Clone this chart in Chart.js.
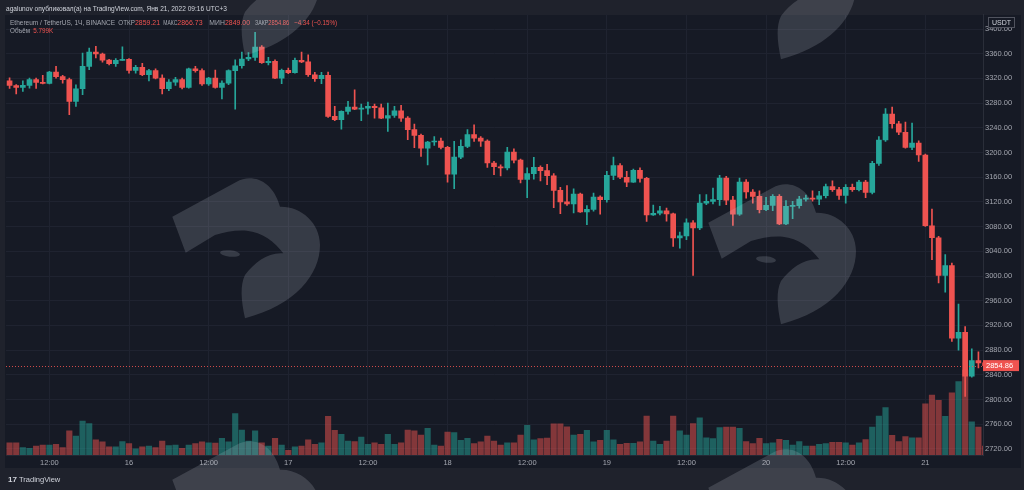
<!DOCTYPE html>
<html>
<head>
<meta charset="utf-8">
<script src="https://cdn.jsdelivr.net/npm/chart.js@4.4.1/dist/chart.umd.min.js"></script>
<style>
  html, body { margin: 0; padding: 0; background: #1f222c; }
  #chart { display: block; }
</style>
</head>
<body>
<canvas id="chart" width="1024" height="490"></canvas>
<script>
// ETH/USDT 1h candles, 15 Jan 06:00 .. 21 Jan 09:00
const opens = [
  3316, 3308.5, 3305.5, 3308.7, 3318, 3313.6, 3312, 3330.3, 3322.8, 3318,
  3282.8, 3303.3, 3339.5, 3362.7, 3359.5, 3349.7, 3343.8, 3349.2, 3350.8, 3333,
  3338, 3326, 3332.5, 3320.6, 3303.3, 3314, 3318, 3305.5, 3335.7, 3332.5,
  3311, 3320.6, 3305.5, 3312.5, 3332.5, 3340.5, 3351.4, 3354, 3370.8, 3345.4,
  3347.6, 3320.6, 3333, 3329.5, 3349.2, 3346.8, 3326, 3319.5, 3325, 3258.5,
  3253, 3266.6, 3273.6, 3270, 3272, 3274.7, 3272.5, 3255.8, 3260, 3267.7,
  3255.8, 3237, 3227.7, 3207.2, 3217, 3218.5, 3208.3, 3165, 3192.5, 3210,
  3229, 3223.4, 3218.5, 3183, 3177, 3175, 3200.8, 3187.8, 3156.5, 3165.7,
  3176, 3170.6, 3162.4, 3138.7, 3120, 3116.6, 3132.8, 3103.7, 3108, 3128,
  3123.6, 3163, 3179, 3160, 3152, 3171, 3158, 3099, 3101.6, 3105.5,
  3100.6, 3061.5, 3065, 3086, 3077.7, 3118, 3120.8, 3123.6, 3158.6, 3123,
  3100, 3152, 3136, 3128.9, 3107.5, 3114.4, 3128.9, 3084.3, 3112.8, 3113.8,
  3124.6, 3126.3, 3124.6, 3130, 3145, 3139.8, 3130.6, 3143.6, 3140, 3152,
  3135.4, 3182.5, 3220.2, 3262.3, 3246.6, 3232.8, 3208.3, 3215.3, 3196, 3081.4,
  3062, 3001, 3016.7, 2899.5, 2908.7, 2837.6, 2863, 2859.21
];
const highs = [
  3321, 3310, 3316, 3320.6, 3320.6, 3325, 3331.4, 3339.5, 3325, 3320.6,
  3309.8, 3361, 3369, 3372, 3361, 3351, 3352, 3371, 3352, 3341,
  3344.3, 3334.6, 3335.7, 3326, 3318, 3321.7, 3320.6, 3336.8, 3339.5, 3335.7,
  3321.7, 3333.5, 3316, 3334, 3350.3, 3362.7, 3362, 3394.5, 3373, 3354,
  3350.3, 3335.2, 3336.8, 3353, 3362.7, 3358.4, 3329.8, 3329.8, 3330.3, 3274.7,
  3267.7, 3282.8, 3301.7, 3278.5, 3281.7, 3278.5, 3278.5, 3280, 3274.7, 3276.3,
  3258, 3246, 3230, 3218, 3226, 3223.4, 3210, 3218, 3220.7, 3237,
  3245, 3226, 3220.7, 3185.6, 3180, 3208.3, 3206, 3189.4, 3175, 3192,
  3178.6, 3181, 3165.7, 3143.6, 3146.3, 3141, 3134.4, 3114, 3134.4, 3130,
  3169.5, 3192.7, 3182, 3169.5, 3173, 3175, 3159.7, 3115, 3113, 3110,
  3102, 3071, 3092.7, 3089.6, 3131.7, 3131.7, 3142.5, 3163, 3161.3, 3129,
  3158.6, 3156, 3139.8, 3138, 3127.4, 3131.7, 3131.7, 3122, 3120.8, 3129,
  3131, 3138, 3137, 3149, 3154, 3143.6, 3148, 3148.8, 3155, 3155,
  3185.6, 3226, 3271, 3273.6, 3250.4, 3249.3, 3247.6, 3219, 3197.5, 3108.5,
  3064.2, 3034.5, 3021, 2954.6, 2918, 2882, 2877, 2866.73
];
const lows = [
  3304, 3295, 3299, 3304.4, 3304, 3311, 3311, 3320.6, 3312.5, 3261.2,
  3274.7, 3293.6, 3334, 3353, 3346.5, 3342, 3339.5, 3349, 3328.7, 3328.7,
  3324.4, 3316, 3319, 3295, 3300, 3308.7, 3302.8, 3304.4, 3330.3, 3308.7,
  3308.7, 3304.4, 3286.6, 3310, 3270.4, 3336.8, 3348.7, 3349.2, 3344.3, 3342,
  3319.5, 3311.4, 3327.6, 3328.7, 3345.4, 3323.3, 3315, 3311.4, 3257, 3251.5,
  3238, 3262.3, 3269.3, 3251.5, 3262.3, 3255.8, 3254.7, 3234, 3257, 3250.4,
  3220.7, 3208, 3193.7, 3180, 3211.4, 3206, 3152, 3141.4, 3190, 3208,
  3218, 3210, 3176, 3164, 3162, 3172, 3183, 3150.6, 3127, 3157,
  3154, 3148, 3110.7, 3101, 3114.4, 3102, 3103, 3083, 3104.8, 3100,
  3119.7, 3156, 3157.5, 3144.6, 3151.6, 3152, 3088.5, 3098, 3099, 3089,
  3048, 3045, 3058.8, 3001, 3075, 3115.5, 3116.6, 3114.4, 3115.5, 3082,
  3098, 3126, 3118, 3102, 3105.8, 3105.8, 3083, 3083, 3092.7, 3110,
  3121, 3121, 3115.5, 3126.3, 3137, 3124, 3118, 3137, 3138, 3127,
  3133, 3179, 3218, 3239.6, 3228.8, 3207.2, 3204.5, 3185.6, 3080.4, 3026.4,
  2988.6, 2974, 2894, 2880, 2805, 2836, 2851, 2849
];
const closes = [
  3308.5, 3305.5, 3308.7, 3318, 3313.6, 3312, 3330.3, 3322.8, 3318, 3282.8,
  3303.3, 3339.5, 3362.7, 3359.5, 3349.7, 3343.8, 3349.2, 3350.8, 3333, 3338,
  3326, 3332.5, 3320.6, 3303.3, 3314, 3318, 3305.5, 3335.7, 3332.5, 3311,
  3320.6, 3305.5, 3312.5, 3332.5, 3340.5, 3351.4, 3354, 3370.8, 3345.4, 3347.6,
  3320.6, 3333, 3329.5, 3349.2, 3346.8, 3326, 3319.5, 3325, 3258.5, 3253,
  3266.6, 3273.6, 3270, 3272, 3274.7, 3272.5, 3255.8, 3260, 3267.7, 3255.8,
  3237, 3227.7, 3207.2, 3217, 3218.5, 3208.3, 3165, 3192.5, 3210, 3229,
  3223.4, 3218.5, 3183, 3177, 3175, 3200.8, 3187.8, 3156.5, 3165.7, 3176,
  3170.6, 3162.4, 3138.7, 3120, 3116.6, 3132.8, 3103.7, 3108, 3128, 3123.6,
  3163, 3179, 3160, 3152, 3171, 3158, 3099, 3101.6, 3105.5, 3100.6,
  3061.5, 3065, 3086, 3077.7, 3118, 3120.8, 3123.6, 3158.6, 3123, 3100,
  3152, 3136, 3128.9, 3107.5, 3114.4, 3128.9, 3084.3, 3112.8, 3113.8, 3124.6,
  3126.3, 3124.6, 3130, 3145, 3139.8, 3130.6, 3143.6, 3140, 3152, 3135.4,
  3182.5, 3220.2, 3262.3, 3246.6, 3232.8, 3208.3, 3215.3, 3196, 3081.4, 3062,
  3001, 3016.7, 2899.5, 2908.7, 2837.6, 2863, 2859.2, 2854.86
];
// volume, thousands of ETH
const volumes = [
  7.9, 7.9, 4.7, 4.3, 5.8, 6.4, 6.4, 6.9, 4.7, 15.5,
  12.2, 21.9, 20.2, 9.7, 8.4, 5.2, 5.2, 8.6, 7.3, 3.9,
  5.3, 5.8, 4.7, 9.0, 6.1, 6.4, 4.3, 6.4, 7.3, 8.4,
  7.9, 7.7, 10.8, 8.4, 26.6, 16.1, 9.0, 15.5, 7.9, 5.8,
  10.8, 6.4, 3.0, 5.2, 5.8, 9.7, 6.9, 7.9, 24.9, 15.9,
  13.3, 9.0, 8.6, 11.6, 6.9, 7.9, 6.9, 13.3, 6.9, 7.9,
  16.1, 15.5, 12.9, 17.2, 6.4, 5.8, 14.8, 14.4, 9.5, 10.8,
  7.3, 8.4, 12.2, 9.0, 6.4, 7.9, 7.9, 12.9, 19.1, 9.7,
  10.5, 10.9, 20.0, 20.0, 18.2, 12.9, 13.3, 15.9, 8.4, 9.5,
  15.9, 9.7, 6.9, 7.5, 7.5, 8.4, 25.1, 9.0, 6.9, 9.0,
  25.1, 15.5, 12.9, 20.2, 24.0, 11.1, 10.5, 17.6, 18.0, 18.0,
  17.2, 8.6, 7.3, 10.8, 7.3, 7.9, 10.1, 9.5, 6.4, 8.6,
  5.8, 5.8, 6.9, 7.3, 8.2, 8.2, 7.9, 6.4, 7.9, 9.9,
  18.0, 25.1, 30.5, 12.7, 8.6, 11.8, 11.1, 11.1, 33.0, 38.6,
  35.2, 24.9, 40.1, 47.2, 54.7, 21.3, 18.0, 5.799
];
// hours counted from 16 Jan 00:00; the first candle is 15 Jan 06:00
const FIRST_HOUR = -18;
const tickHours = [-12, 0, 12, 24, 36, 48, 60, 72, 84, 96, 108, 120];
const tickLabels = ['12:00', '16', '12:00', '17', '12:00', '18', '12:00', '19', '12:00', '20', '12:00', '21'];
const priceTicks = [2720, 2760, 2800, 2840, 2880, 2920, 2960, 3000, 3040, 3080, 3120, 3160, 3200, 3240, 3280, 3320, 3360, 3400];

const GREEN = '#26a69a';
const RED = '#ef5350';
const PANE = '#161a25';
const FRAME = '#1f222c';
const GRID = '#1f2330';
const TEXT = '#a3a6af';
const FONT = '"Liberation Sans", Arial, sans-serif';

const hours = closes.map((c, i) => FIRST_HOUR + i);
const up = closes.map((c, i) => c >= opens[i]);
const candleColors = up.map(u => u ? GREEN : RED);
const volumeColors = up.map(u => u ? 'rgba(38,166,154,0.5)' : 'rgba(239,83,80,0.5)');
const last = closes.length - 1;

// watermark logo outline (slab + bean with the eagle head cut out)
function logoPath(ctx, dx, dy) {
  const P = (x, y) => [x + dx, y + dy];
  ctx.beginPath();
  ctx.moveTo(...P(172.3, 216.7));
  ctx.lineTo(...P(236.7, 181.7));
  ctx.bezierCurveTo(...P(250, 174), ...P(272, 178), ...P(280, 206.7));
  ctx.bezierCurveTo(...P(300, 206), ...P(320, 222), ...P(320, 245));
  ctx.bezierCurveTo(...P(320, 275), ...P(295, 305), ...P(245, 318.3));
  ctx.bezierCurveTo(...P(241, 300), ...P(240, 285), ...P(245, 275));
  ctx.bezierCurveTo(...P(255, 262), ...P(268, 252), ...P(283.3, 253.3));
  ctx.bezierCurveTo(...P(275, 242), ...P(262, 232), ...P(246.7, 230.7));
  ctx.bezierCurveTo(...P(235, 230), ...P(225, 232), ...P(215, 235));
  ctx.lineTo(...P(185.7, 252.7));
  ctx.closePath();
}

const backdrop = {
  id: 'backdrop',
  beforeDraw(chart) {
    const ctx = chart.ctx;
    ctx.save();
    ctx.fillStyle = FRAME;
    ctx.fillRect(0, 0, chart.width, chart.height);
    ctx.fillStyle = PANE;
    ctx.fillRect(5, 15, 1016, 453);
    ctx.restore();
  }
};

const overlay = {
  id: 'overlay',
  afterDatasetsDraw(chart) {
    const ctx = chart.ctx;
    const a = chart.chartArea;
    const y = chart.scales.y.getPixelForValue(closes[last]);
    ctx.save();
    ctx.strokeStyle = 'rgba(239,83,80,0.85)';
    ctx.lineWidth = 1;
    ctx.setLineDash([1, 2]);
    ctx.beginPath();
    ctx.moveTo(a.left, Math.round(y) + 0.5);
    ctx.lineTo(a.right, Math.round(y) + 0.5);
    ctx.stroke();
    ctx.restore();
  },
  afterDraw(chart) {
    const ctx = chart.ctx;
    const y = chart.scales.y.getPixelForValue(closes[last]);
    ctx.save();
    ctx.textBaseline = 'middle';
    // last price tag
    ctx.fillStyle = RED;
    ctx.fillRect(983, y - 5.5, 36, 11);
    ctx.fillStyle = '#ffffff';
    ctx.font = '7.5px ' + FONT;
    ctx.fillText(closes[last].toFixed(2), 986, y + 0.5);
    // currency tag
    ctx.fillStyle = PANE;
    ctx.fillRect(988.5, 17.5, 26, 10);
    ctx.strokeStyle = '#50535e';
    ctx.strokeRect(988.5, 17.5, 26, 10);
    ctx.fillStyle = '#d1d4dc';
    ctx.font = '7px ' + FONT;
    ctx.textAlign = 'center';
    ctx.fillText('USDT', 1001.5, 23);
    ctx.textAlign = 'left';

    // header
    const o = opens[last], h = highs[last], l = lows[last], c = closes[last];
    const chg = c - closes[last - 1];
    const pct = chg / closes[last - 1] * 100;
    const signed = v => (v < 0 ? '\u2212' : '+') + Math.abs(v).toFixed(2);
    ctx.font = '7px ' + FONT;
    ctx.fillStyle = '#d1d4dc';
    ctx.fillText('agalunov опубликовал(а) на TradingView.com, Янв 21, 2022 09:16 UTC+3', 6, 9, 221);
    const line2 = [
      [10, 'Ethereum / TetherUS, 1Ч, BINANCE', TEXT, 105],
      [118.3, 'ОТКР', TEXT, 16.5], [135, o.toFixed(2), RED, 25],
      [163.3, 'МАКС', TEXT, 14], [177.3, h.toFixed(2), RED, 27],
      [209.3, 'МИН', TEXT, 15.5], [225, l.toFixed(2), RED, 25],
      [255, 'ЗАКР', TEXT, 13.3], [268.3, c.toFixed(2), RED, 21],
      [294, signed(chg) + ' (' + signed(pct) + '%)', RED, 43]
    ];
    line2.forEach(([x, t, col, w]) => { ctx.fillStyle = col; ctx.fillText(t, x, 23, w); });
    ctx.fillStyle = TEXT;
    ctx.fillText('Объём', 10, 31, 20);
    ctx.fillStyle = RED;
    ctx.fillText(volumes[last].toFixed(3) + 'K', 33.3, 31, 20);

    // footer
    ctx.fillStyle = '#d1d4dc';
    ctx.font = 'bold 8px ' + FONT;
    ctx.fillText('17', 8, 480);
    ctx.font = '7.5px ' + FONT;
    ctx.fillText('TradingView', 19, 480);

    // watermarks
    const spots = [[0, -263], [0, 0], [0, 263], [536, -259], [536, 6], [536, 271]];
    ctx.fillStyle = 'rgba(195,200,215,0.19)';
    spots.forEach(([dx, dy]) => {
      logoPath(ctx, dx, dy);
      ctx.fill();
      ctx.beginPath();
      ctx.ellipse(230 + dx, 253.5 + dy, 10, 3.2, 0.1, 0, Math.PI * 2);
      ctx.fill();
    });
    ctx.restore();
  }
};

new Chart(document.getElementById('chart'), {
  type: 'bar',
  data: {
    datasets: [
      {
        label: 'bodies',
        data: hours.map((x, i) => ({ x: x, y: [Math.min(opens[i], closes[i]), Math.max(opens[i], closes[i])] })),
        backgroundColor: candleColors,
        barThickness: 5,
        minBarLength: 1,
        grouped: false,
        order: 0,
        yAxisID: 'y'
      },
      {
        label: 'wicks',
        data: hours.map((x, i) => ({ x: x, y: [lows[i], highs[i]] })),
        backgroundColor: candleColors,
        barThickness: 1,
        grouped: false,
        order: 1,
        yAxisID: 'y'
      },
      {
        label: 'volume',
        data: hours.map((x, i) => ({ x: x, y: volumes[i] })),
        backgroundColor: volumeColors,
        barThickness: 5.5,
        grouped: false,
        order: 2,
        yAxisID: 'yv'
      }
    ]
  },
  options: {
    responsive: false,
    animation: false,
    layout: { padding: { left: 6, right: 3, top: 14.7, bottom: 22 } },
    plugins: { legend: { display: false }, tooltip: { enabled: false } },
    scales: {
      x: {
        type: 'linear',
        position: 'bottom',
        offset: false,
        min: -18.54,
        max: 128.69,
        grid: { color: GRID, drawTicks: false, offset: false },
        border: { color: '#242834' },
        ticks: {
          color: TEXT,
          font: { family: FONT, size: 7.5 },
          padding: 3,
          maxRotation: 0,
          autoSkip: false,
          callback: v => {
            const k = tickHours.indexOf(v);
            return k >= 0 ? tickLabels[k] : '';
          }
        },
        afterBuildTicks: s => { s.ticks = tickHours.map(v => ({ value: v })); },
        afterFit: s => { s.height = 13; s.paddingLeft = 0; s.paddingRight = 0; }
      },
      y: {
        type: 'linear',
        position: 'right',
        min: 2710.1,
        max: 3423.2,
        grid: { color: GRID, drawTicks: false },
        border: { color: '#2a2e39' },
        ticks: {
          color: TEXT,
          font: { family: FONT, size: 7.5 },
          padding: 2,
          callback: v => v.toFixed(2)
        },
        afterBuildTicks: s => { s.ticks = priceTicks.map(v => ({ value: v })); },
        afterFit: s => { s.width = 38; s.paddingTop = 0; s.paddingBottom = 0; }
      },
      yv: {
        type: 'linear',
        display: false,
        min: 0,
        max: 283.5
      }
    }
  },
  plugins: [backdrop, overlay]
});
</script>
</body>
</html>
